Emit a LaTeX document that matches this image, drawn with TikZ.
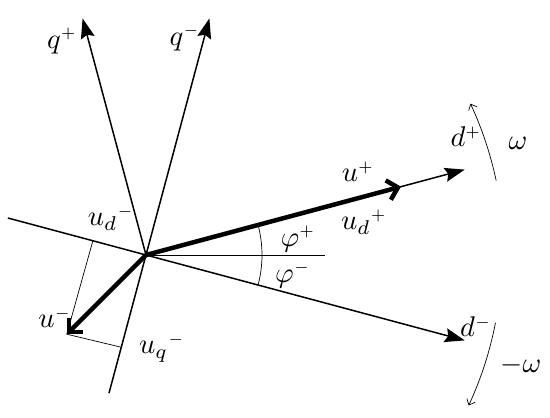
\documentclass[tikz,border=0pt]{standalone}
\usepackage{amsmath}
\usepackage{tikz}
\usetikzlibrary{arrows.meta}
\tikzstyle{axis} = [line width=1.5pt,-{Stealth[length=20pt,width=14pt,inset=3pt]}]
\tikzstyle{thin} = [line width=0.7pt]
\tikzstyle{vec} = [line width=4.5pt,-{Straight Barb[length=10pt,width=20pt]}]
\tikzstyle{rot} = [line width=0.7pt,-{Straight Barb[length=5pt,width=9pt]}]
\tikzstyle{lbl} = [scale=2.85, transform shape, inner sep=0pt]
\newcommand{\sgn}[1]{^{\scriptscriptstyle #1}}

\begin{document}
\begin{tikzpicture}[x=1pt, y=1pt]
\useasboundingbox (-146,-163) rectangle (404,255);
% axes
\coordinate (O) at (0,0);
\coordinate (dp) at (15:330);
\coordinate (dm) at (-15:330);
\coordinate (dm0) at (165:143);
\coordinate (qp) at (105:245);
\coordinate (qm) at (75:245);
\coordinate (qm0) at (255:143);
\coordinate (hz) at (179,0);
\draw[axis] (O) -- (dp);
\draw[axis] (dm0) -- (dm);
\draw[axis] (O) -- (qp);
\draw[axis] (qm0) -- (qm);
\draw[thin] (O) -- (hz);
\draw[thin] (15:116) arc (15:-15:116);

% vectors
\coordinate (up) at (15:264);
\coordinate (um) at (225:112);
\coordinate (umd) at (165:55);
\coordinate (umq) at (255:95.5);
\draw[thin] (um) -- (umd);
\draw[thin] (um) -- (umq);
\draw[vec] (O) -- (up);
\draw[vec] (O) -- (um);

% rotation
\draw[rot] (12:358) arc (12:25:358);
\draw[rot] (-11:356) arc (-11:-25:356);

% labels
\node (lqp) [lbl] at (-84,214) {$q\sgn{+}$};
\node (lqm) [lbl] at (39,217) {$q\sgn{-}$};
\node (ldp) [lbl] at (320,118) {$d\sgn{+}$};
\node (lw) [lbl] at (372,112) {$\omega$};
\node (lup) [lbl] at (212,83) {$u\sgn{+}$};
\node (ludp) [lbl] at (218,33) {$u_d{}\sgn{+}$};
\node (lfp) [lbl] at (152,16) {$\varphi\sgn{+}$};
\node (lfm) [lbl] at (147,-20) {$\varphi\sgn{-}$};
\node (ldm) [lbl] at (330,-72) {$d\sgn{-}$};
\node (lmw) [lbl] at (375,-110) {$-\omega$};
\node (ludm) [lbl] at (-35,37) {$u_d{}\sgn{-}$};
\node (lum) [lbl] at (-91,-63) {$u\sgn{-}$};
\node (luqm) [lbl] at (16,-93) {$u_q{}\sgn{-}$};
\end{tikzpicture}
\end{document}
